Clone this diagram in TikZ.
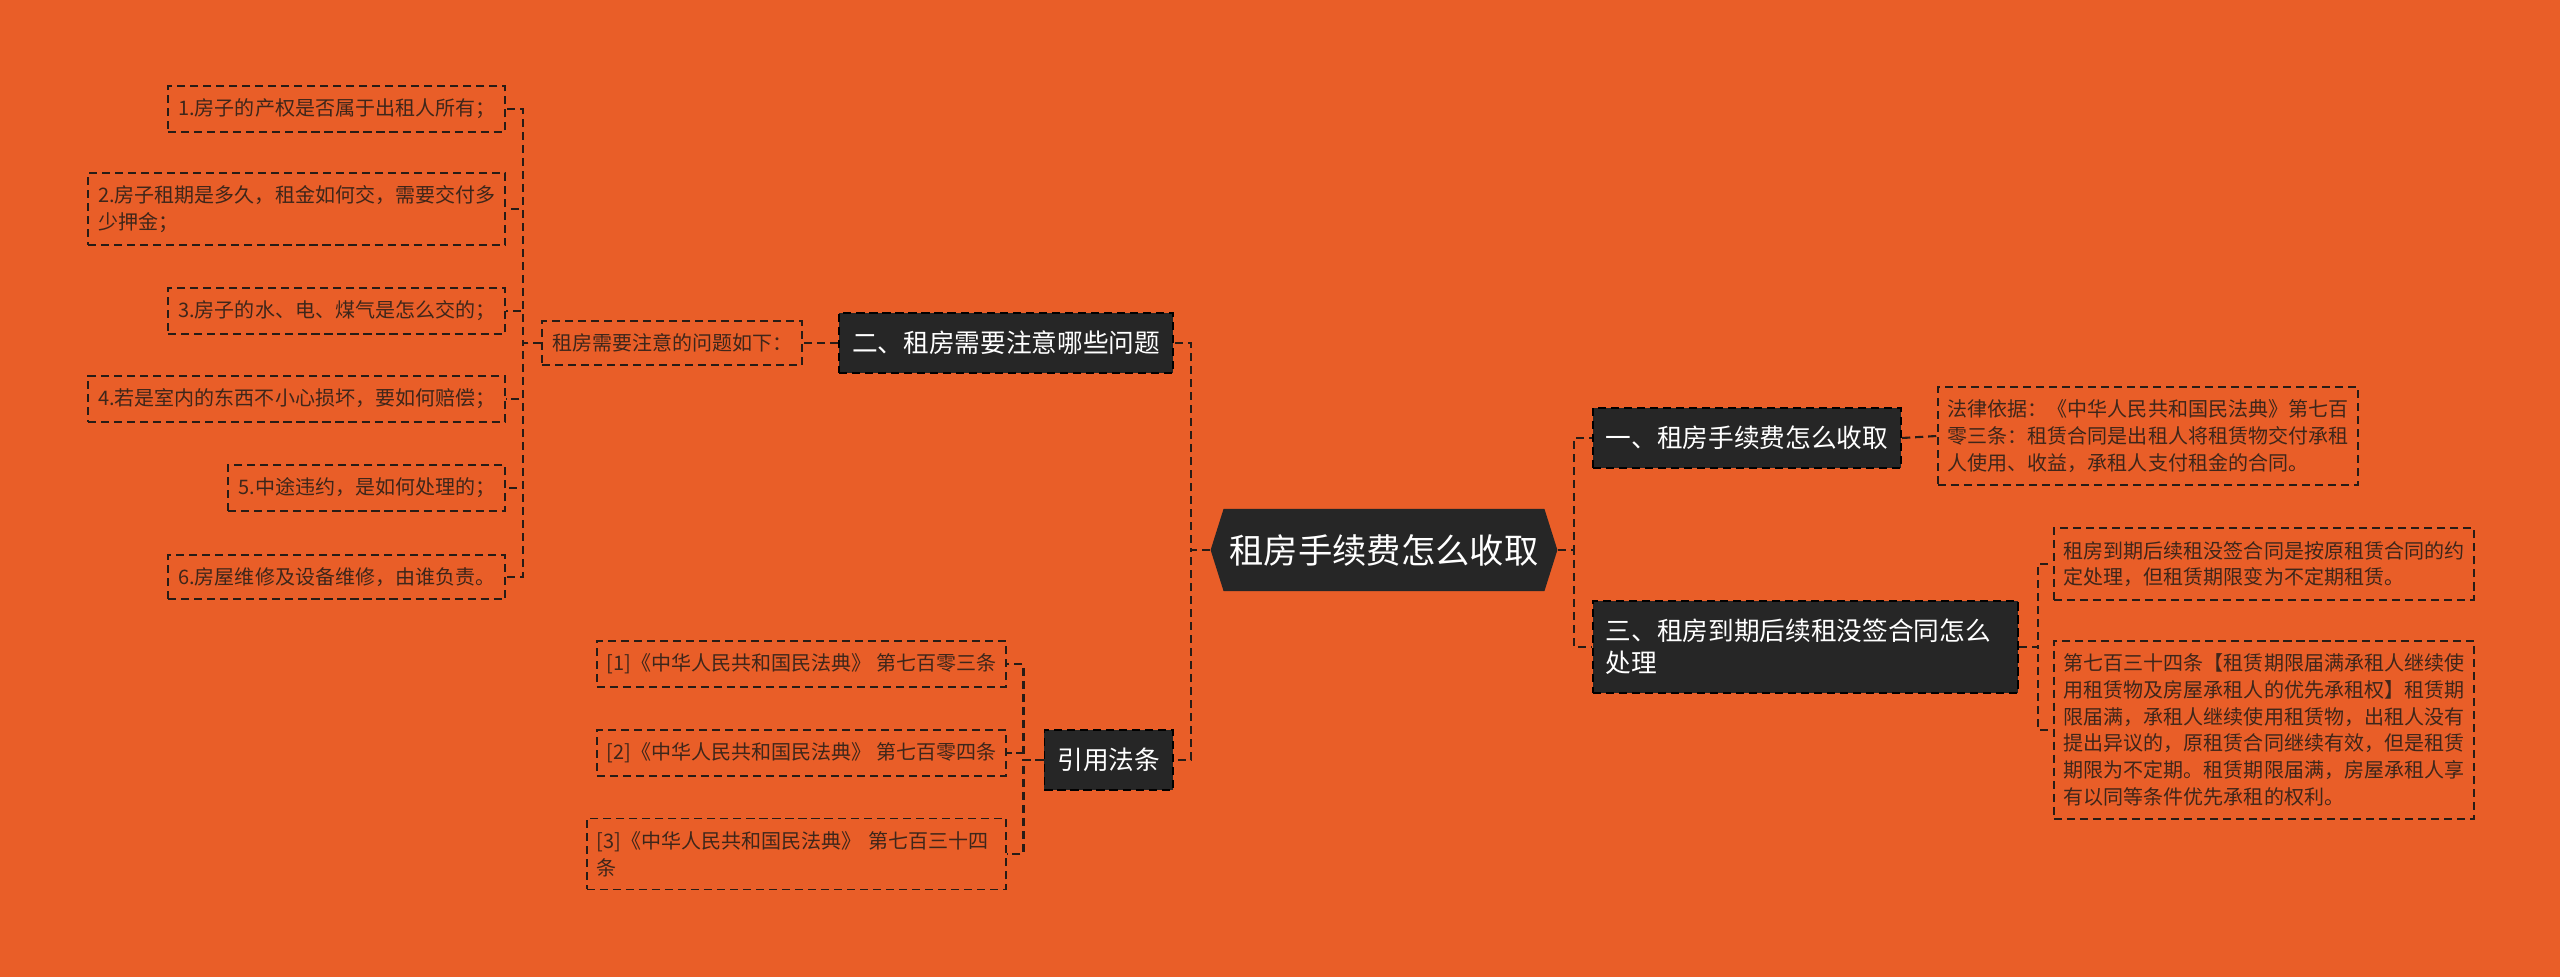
\documentclass[tikz,border=0pt]{standalone}
\usepackage{fontspec}
\setmainfont{Noto Sans CJK SC}
\usetikzlibrary{shapes.symbols}
\definecolor{bgorange}{RGB}{233,94,40}
\definecolor{darkbox}{RGB}{38,38,38}
\definecolor{inkline}{RGB}{40,28,22}
\definecolor{inktext}{RGB}{62,38,26}
\newcommand\leaffont{\fontsize{5.69pt}{7.6pt}\selectfont}
\newcommand\topicfont{\fontsize{7.3pt}{9pt}\selectfont}
\newcommand\rootfont{\fontsize{9.76pt}{12pt}\selectfont}

\begin{document}
\begin{tikzpicture}[x=0.01cm,y=-0.01cm,
  leaf/.style={draw=inkline,dash pattern=on 2.3pt off 1.4pt,line width=0.5pt,text=inktext,font=\leaffont,align=left,inner xsep=0.1cm,inner ysep=0.128cm},
  topic/.style={fill=darkbox,draw=black,dash pattern=on 2.3pt off 1.4pt,line width=0.5pt,text=white,font=\topicfont,align=left,inner xsep=0.13cm,inner ysep=0.18cm},
  link/.style={draw=inkline,dash pattern=on 2.3pt off 1.4pt,line width=0.6pt}]
\fill[bgorange] (0,0) rectangle (2560,977);
% centre:
\node[signal,signal to=west and east,signal pointer angle=145,fill=darkbox,text=white,font=\rootfont,inner xsep=0.06cm,inner ysep=0pt,minimum height=0.82cm] (root) at (1384,550) {租房手续费怎么收取};
% left side:
\node[topic,anchor=east] (b2) at (1174,343) {二、租房需要注意哪些问题};
\node[leaf,anchor=east] (note) at (803,343) {租房需要注意的问题如下：};
\node[leaf,anchor=east] (q1) at (506,109) {1.房子的产权是否属于出租人所有；};
\node[leaf,anchor=east] (q2) at (506,209) {2.房子租期是多久，租金如何交，需要交付多\\少押金；};
\node[leaf,anchor=east] (q3) at (506,311) {3.房子的水、电、煤气是怎么交的；};
\node[leaf,anchor=east] (q4) at (506,399) {4.若是室内的东西不小心损坏，要如何赔偿；};
\node[leaf,anchor=east] (q5) at (506,488) {5.中途违约，是如何处理的；};
\node[leaf,anchor=east] (q6) at (506,577) {6.房屋维修及设备维修，由谁负责。};
\node[topic,anchor=east] (cite) at (1174,760) {引用法条};
\node[leaf,anchor=east] (c1) at (1007,664) {[1]《中华人民共和国民法典》 第七百零三条};
\node[leaf,anchor=east] (c2) at (1007,753) {[2]《中华人民共和国民法典》 第七百零四条};
\node[leaf,anchor=east,text width=3.99cm] (c3) at (1007,854) {[3]《中华人民共和国民法典》 第七百三十四\\条};
% right side:
\node[topic,anchor=west] (b1) at (1592,438) {一、租房手续费怎么收取};
\node[leaf,anchor=west] (law) at (1937,436) {法律依据：《中华人民共和国民法典》第七百\\零三条：租赁合同是出租人将租赁物交付承租\\人使用、收益，承租人支付租金的合同。};
\node[topic,anchor=west,text width=3.99cm] (b3) at (1592,647) {三、租房到期后续租没签合同怎么\\处理};
\node[leaf,anchor=west] (r1) at (2053,564) {租房到期后续租没签合同是按原租赁合同的约\\定处理，但租赁期限变为不定期租赁。};
\node[leaf,anchor=west] (r2) at (2053,730) {第七百三十四条【租赁期限届满承租人继续使\\用租赁物及房屋承租人的优先承租权】租赁期\\限届满，承租人继续使用租赁物，出租人没有\\提出异议的，原租赁合同继续有效，但是租赁\\期限为不定期。租赁期限届满，房屋承租人享\\有以同等条件优先承租的权利。};
% links:
\draw[link] (root.west) -- ++(-19,0) |- (b2.east);
\draw[link] (root.west) -- ++(-19,0) |- (cite.east);
\draw[link] (b2.west) -- (note.east);
\foreach \i in {1,...,6} \draw[link] (note.west) -- ++(-18,0) |- (q\i.east);
\foreach \i in {1,2,3} \draw[link] (cite.west) -- ++(-20,0) |- (c\i.east);
\draw[link] (root.east) -- ++(16,0) |- (b1.west);
\draw[link] (root.east) -- ++(16,0) |- (b3.west);
\draw[link] (b1.east) -- (law.west);
\draw[link] (b3.east) -- ++(19,0) |- (r1.west);
\draw[link] (b3.east) -- ++(19,0) |- (r2.west);
\end{tikzpicture}
\end{document}
